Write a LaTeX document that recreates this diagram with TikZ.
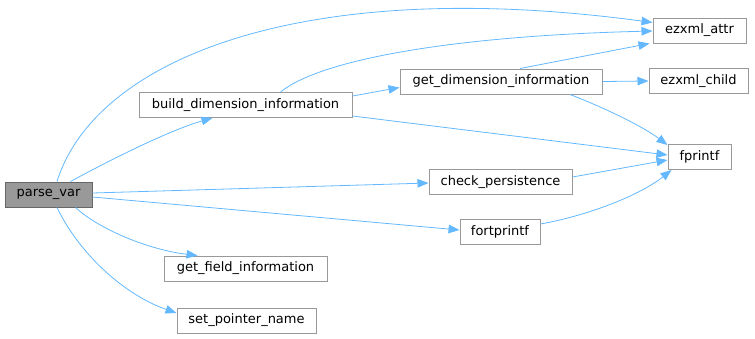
\documentclass[tikz,border=0pt]{standalone}
\usepackage{fontspec}
\setmainfont{DejaVu Sans}
\usetikzlibrary{arrows.meta}
\definecolor{edgeblue}{HTML}{63B8FF}
\definecolor{boxgray}{HTML}{999999}
\definecolor{boxdark}{HTML}{666666}
\tikzset{
  fn/.style={draw=boxgray, fill=white, line width=1pt, minimum height=25pt,
    inner sep=0pt, font=\fontsize{13}{15}\selectfont},
  cur/.style={fn, draw=boxdark, fill=boxgray},
  call/.style={draw=edgeblue, line width=0.8pt,
    -{Stealth[length=11pt,width=8.5pt,inset=0pt]}},
}
\begin{document}
\begin{tikzpicture}[x=1pt,y=-1pt]
\useasboundingbox (0,0) rectangle (755,338);
% functions
\node[cur, minimum width=87pt]  (pv)   at (48.5,194.5) {parse\_var};
\node[fn, minimum width=213pt]  (bdi)  at (245.5,105)  {build\_dimension\_information};
\node[fn, minimum width=202pt]  (gdi)  at (501,81.5)   {get\_dimension\_information};
\node[fn, minimum width=93pt]   (attr) at (699.5,30.5) {ezxml\_attr};
\node[fn, minimum width=99pt]   (chld) at (698.5,81)   {ezxml\_child};
\node[fn, minimum width=63pt]   (fpf)  at (699.5,157)  {fprintf};
\node[fn, minimum width=143pt]  (chk)  at (500.5,182)  {check\_persistence};
\node[fn, minimum width=80pt]   (fort) at (500,231.5)  {fortprintf};
\node[fn, minimum width=163pt]  (gfi)  at (245.5,268.5){get\_field\_information};
\node[fn, minimum width=139pt]  (spn)  at (246.5,320.5){set\_pointer\_name};
% calls from parse_var
\draw[call] ([xshift=8.5pt]pv.north) .. controls (95,60) and (300,-25) .. ([yshift=8pt]attr.west);
\draw[call] ([xshift=22pt]pv.north) .. controls (110,160) and (170,130) .. ([xshift=-33pt]bdi.south);
\draw[call] ([yshift=1.5pt]pv.east) -- ([yshift=-1pt]chk.west);
\draw[call] ([yshift=-2.5pt]pv.east) -- ([yshift=1.5pt]fort.west);
\draw[call] ([xshift=27pt]pv.south) .. controls (100,230) and (150,250) .. ([xshift=-48pt]gfi.north);
\draw[call] ([xshift=8.5pt]pv.south) .. controls (80,255) and (125,295) .. ([yshift=7.5pt]spn.west);
% calls from build_dimension_information
\draw[call] ([xshift=35pt]bdi.north) .. controls (320,60) and (450,36) .. ([yshift=-0.5pt]attr.west);
\draw[call] ([yshift=9pt]bdi.east) -- ([yshift=-6pt]gdi.west);
\draw[call] ([yshift=-11pt]bdi.east) -- ([yshift=2pt]fpf.west);
% calls from get_dimension_information
\draw[call] ([xshift=19pt]gdi.north) -- ([xshift=-3pt]attr.south west);
\draw[call] (gdi.east) -- (chld.west);
\draw[call] ([xshift=69pt]gdi.south) .. controls (610,110) and (645,128) .. ([yshift=12pt]fpf.west);
% remaining calls to fprintf
\draw[call] ([yshift=5pt]chk.east) -- ([yshift=-3pt]fpf.west);
\draw[call] ([yshift=7.5pt]fort.east) .. controls (590,215) and (640,195) .. ([xshift=4pt]fpf.south west);
\end{tikzpicture}
\end{document}
